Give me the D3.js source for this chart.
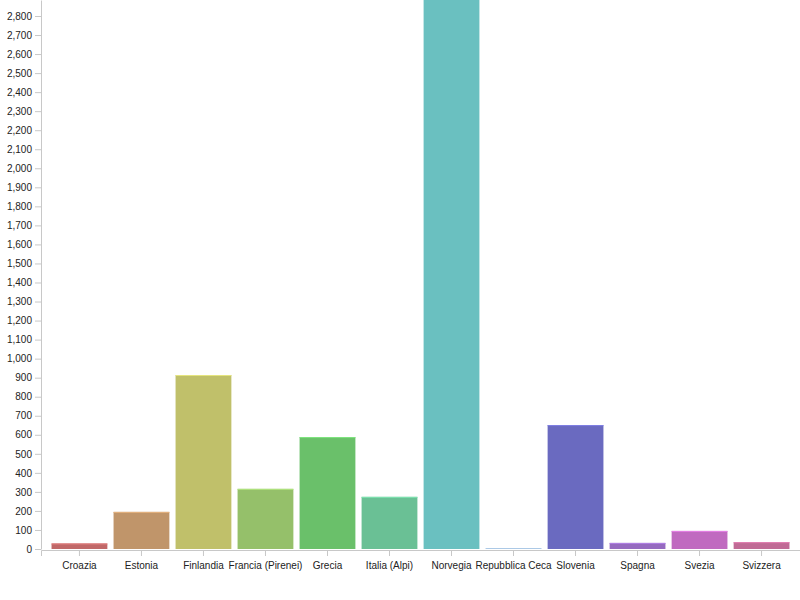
<!DOCTYPE html>
<html>
<head>
<meta charset="utf-8">
<script src="https://cdn.jsdelivr.net/npm/d3@7"></script>
<style>
  body { margin: 0; background: #fff; }
  svg { display: block; font-family: "Liberation Sans", Arial, sans-serif; }
  .axis path, .axis line { stroke: #c8c8c8; }
  .axis text { fill: #222; font-size: 10px; }
</style>
</head>
<body>
<svg width="800" height="600"></svg>
<script>
var countries = ["Croazia", "Estonia", "Finlandia", "Francia (Pirenei)", "Grecia", "Italia (Alpi)",
  "Norvegia", "Repubblica Ceca", "Slovenia", "Spagna", "Svezia", "Svizzera"];
var values = [29, 195, 914, 316, 588, 274, 2920, 2, 651, 32, 95, 36];
var colors = ["#c06868", "#c0956a", "#c0c06a", "#95c06a", "#6ac06a", "#6ac095",
  "#6ac0c0", "#6a95c0", "#6a6ac0", "#956ac0", "#c06ac0", "#c06a95"];
var yMax = 2884;

var svg = d3.select("svg");
var pArea = [41, 0, 800, 550];

var xScale = d3.scaleBand()
  .domain(countries)
  .range([pArea[0], pArea[2]])
  .paddingInner(0.1)
  .paddingOuter(0.17);

var yScale = d3.scaleLinear()
  .domain([0, yMax])
  .range([pArea[3] - 1, pArea[1]]);

var data = countries.map((c, i) => ({name: c, value: values[i], color: colors[i]}));

// bars
var g = svg.append("g");
g.selectAll(".bar")
  .data(data)
  .enter().append("rect")
  .attr("class", "bar")
  .attr("x", d => xScale(d.name))
  .attr("width", xScale.bandwidth())
  .attr("y", d => yScale(d.value))
  .attr("height", d => yScale(0) - yScale(d.value))
  .attr("fill", d => d.color);

// faint light edge on top of each bar
g.selectAll(".edge")
  .data(data)
  .enter().append("rect")
  .attr("class", "edge")
  .attr("x", d => xScale(d.name))
  .attr("width", xScale.bandwidth())
  .attr("y", d => yScale(d.value))
  .attr("height", d => Math.min(1, yScale(0) - yScale(d.value)))
  .attr("fill", d => d3.color(d.color).brighter(0.5));

// x-axis
svg.append("g")
  .attr("class", "axis axis--x")
  .attr("transform", `translate(0,${pArea[3]})`)
  .call(d3.axisBottom(xScale).tickSizeOuter(6).tickPadding(6));

// y-axis
svg.append("g")
  .attr("class", "axis axis--y")
  .attr("transform", `translate(${pArea[0]},0)`)
  .call(d3.axisLeft(yScale).tickValues(d3.range(0, 2801, 100)).tickFormat(d3.format(",")).tickSizeOuter(0));
</script>
</body>
</html>
